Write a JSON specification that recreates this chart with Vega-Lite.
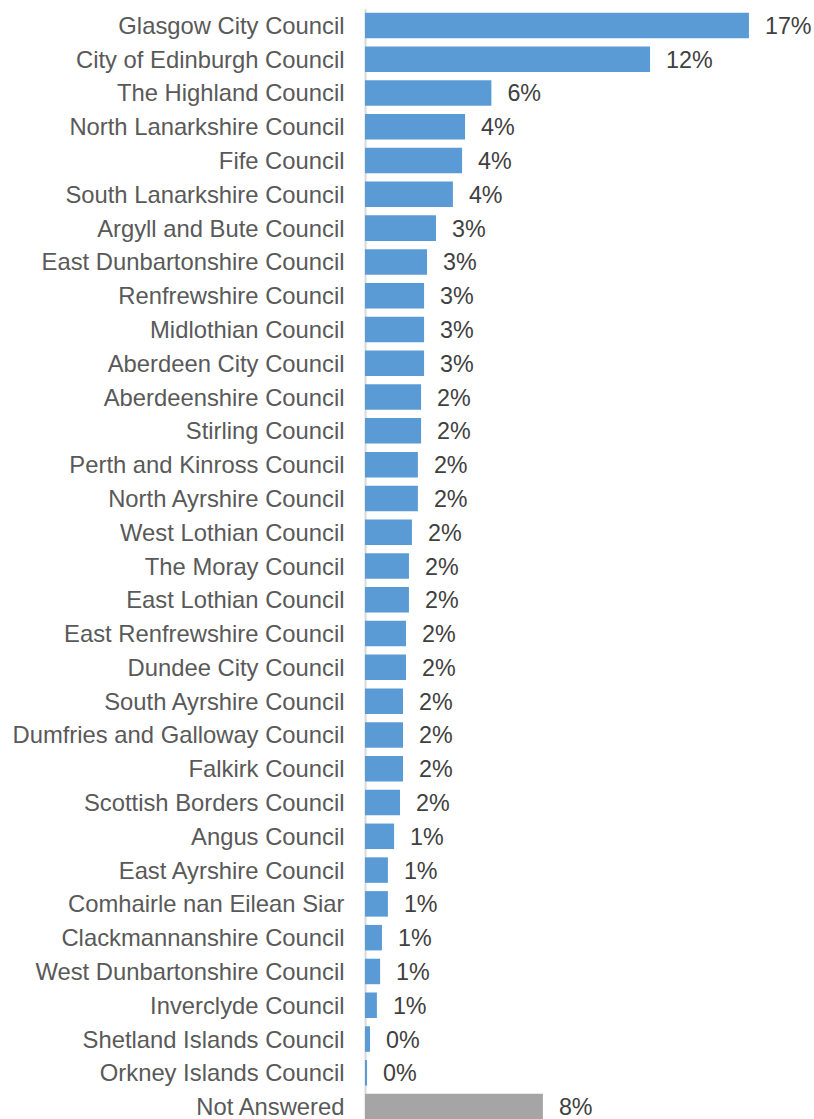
{
  "$schema": "https://vega.github.io/schema/vega-lite/v6.json",
  "width": 435,
  "height": 1115,
  "padding": {"left": 12, "top": 8.5, "right": 0, "bottom": 0},
  "background": "white",
  "config": {
    "view": {"stroke": null},
    "font": "Liberation Sans"
  },
  "data": {
    "values": [
      {"area": "Glasgow City Council", "share": 0.1677, "group": "council"},
      {"area": "City of Edinburgh Council", "share": 0.1245, "group": "council"},
      {"area": "The Highland Council", "share": 0.0552, "group": "council"},
      {"area": "North Lanarkshire Council", "share": 0.0437, "group": "council"},
      {"area": "Fife Council", "share": 0.0424, "group": "council"},
      {"area": "South Lanarkshire Council", "share": 0.0384, "group": "council"},
      {"area": "Argyll and Bute Council", "share": 0.0310, "group": "council"},
      {"area": "East Dunbartonshire Council", "share": 0.0271, "group": "council"},
      {"area": "Renfrewshire Council", "share": 0.0258, "group": "council"},
      {"area": "Midlothian Council", "share": 0.0258, "group": "council"},
      {"area": "Aberdeen City Council", "share": 0.0258, "group": "council"},
      {"area": "Aberdeenshire Council", "share": 0.0245, "group": "council"},
      {"area": "Stirling Council", "share": 0.0245, "group": "council"},
      {"area": "Perth and Kinross Council", "share": 0.0231, "group": "council"},
      {"area": "North Ayrshire Council", "share": 0.0231, "group": "council"},
      {"area": "West Lothian Council", "share": 0.0205, "group": "council"},
      {"area": "The Moray Council", "share": 0.0192, "group": "council"},
      {"area": "East Lothian Council", "share": 0.0192, "group": "council"},
      {"area": "East Renfrewshire Council", "share": 0.0179, "group": "council"},
      {"area": "Dundee City Council", "share": 0.0179, "group": "council"},
      {"area": "South Ayrshire Council", "share": 0.0166, "group": "council"},
      {"area": "Dumfries and Galloway Council", "share": 0.0166, "group": "council"},
      {"area": "Falkirk Council", "share": 0.0166, "group": "council"},
      {"area": "Scottish Borders Council", "share": 0.0153, "group": "council"},
      {"area": "Angus Council", "share": 0.0127, "group": "council"},
      {"area": "East Ayrshire Council", "share": 0.0100, "group": "council"},
      {"area": "Comhairle nan Eilean Siar", "share": 0.0100, "group": "council"},
      {"area": "Clackmannanshire Council", "share": 0.0074, "group": "council"},
      {"area": "West Dunbartonshire Council", "share": 0.0066, "group": "council"},
      {"area": "Inverclyde Council", "share": 0.0052, "group": "council"},
      {"area": "Shetland Islands Council", "share": 0.0022, "group": "council"},
      {"area": "Orkney Islands Council", "share": 0.0009, "group": "council"},
      {"area": "Not Answered", "share": 0.0777, "group": "none"}
    ]
  },
  "encoding": {
    "y": {
      "field": "area",
      "type": "nominal",
      "sort": null,
      "scale": {"paddingInner": 0.245, "paddingOuter": 0.1225},
      "axis": {
        "title": null,
        "ticks": false,
        "labelPadding": 21,
        "labelOffset": 1.5,
        "labelFontSize": 23.8,
        "labelColor": "#595959",
        "labelFont": "Liberation Sans",
        "labelLimit": 400,
        "domainColor": "#D9D9D9",
        "domainWidth": 2
      }
    },
    "x": {
      "field": "share",
      "type": "quantitative",
      "scale": {"domain": [0, 0.19], "nice": false},
      "axis": null
    }
  },
  "layer": [
    {
      "mark": {"type": "bar", "x2": 1},
      "encoding": {
        "x": {"field": "share", "type": "quantitative"},
        "color": {
          "field": "group",
          "type": "nominal",
          "scale": {"domain": ["council", "none"], "range": ["#5B9BD5", "#A5A5A5"]},
          "legend": null
        }
      }
    },
    {
      "mark": {
        "type": "text",
        "align": "left",
        "baseline": "middle",
        "dx": 16,
        "dy": 1.5,
        "fontSize": 23.3,
        "color": "#404040",
        "font": "Liberation Sans"
      },
      "encoding": {
        "text": {"field": "share", "type": "quantitative", "format": ".0%"}
      }
    }
  ]
}
